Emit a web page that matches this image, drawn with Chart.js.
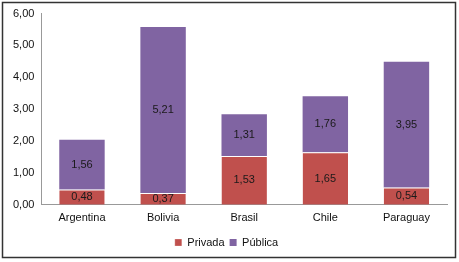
<!DOCTYPE html>
<html>
<head>
<meta charset="utf-8">
<script src="https://cdn.jsdelivr.net/npm/chart.js@4"></script>
<style>
  body { margin: 0; background: #fff; }
  #wrap { width: 459px; height: 262px; }
</style>
</head>
<body>
<div id="wrap"><canvas id="area" width="459" height="262"></canvas></div>
<script>
const categories = ["Argentina", "Bolivia", "Brasil", "Chile", "Paraguay"];
const privada = [0.48, 0.37, 1.53, 1.65, 0.54];
const publica = [1.56, 5.21, 1.31, 1.76, 3.95];

const fmt = v => v.toFixed(2).replace(".", ",");

// frame around the whole chart
const frame = {
  id: "frame",
  afterDraw(chart) {
    const c = chart.ctx;
    c.save();
    c.strokeStyle = "#333";
    c.lineWidth = 1.5;
    c.strokeRect(2.5, 2.5, 453, 255);
    c.restore();
  }
};

// value labels inside the segments
const labels = {
  id: "labels",
  afterDatasetsDraw(chart) {
    const c = chart.ctx;
    c.save();
    c.font = "11px 'Liberation Sans', Arial, sans-serif";
    c.fillStyle = "#1a1a1a";
    c.textAlign = "center";
    c.textBaseline = "middle";
    chart.data.datasets.forEach((ds, i) => {
      chart.getDatasetMeta(i).data.forEach((bar, j) => {
        const y = (bar.y + bar.base) / 2;
        c.fillText(fmt(ds.data[j]), bar.x, y);
      });
    });
    c.restore();
  }
};

new Chart(document.getElementById("area"), {
  type: "bar",
  data: {
    labels: categories,
    datasets: [
      { label: "Privada", data: privada, backgroundColor: "#C0504D", borderColor: "#fff", borderWidth: {top: 1}, borderSkipped: "bottom" },
      { label: "Pública", data: publica, backgroundColor: "#8064A2", borderColor: "#fff", borderWidth: 0 }
    ]
  },
  options: {
    responsive: false,
    animation: false,
    categoryPercentage: 0.56,
    barPercentage: 1,
    layout: { padding: { top: 11, left: 6, right: 12, bottom: 4 } },
    scales: {
      x: {
        stacked: true,
        grid: { display: false, drawTicks: false },
        border: { color: "#999", width: 1 },
        ticks: { color: "#111", font: { family: "'Liberation Sans', Arial", size: 11 }, padding: 7 }
      },
      y: {
        stacked: true,
        min: 0, max: 6,
        grid: { display: false, drawTicks: false },
        border: { color: "#999", width: 1 },
        ticks: { stepSize: 1, color: "#111", padding: 7, font: { family: "'Liberation Sans', Arial", size: 11 }, callback: v => fmt(v) }
      }
    },
    plugins: {
      legend: {
        position: "bottom",
        labels: { boxWidth: 7, boxHeight: 7, padding: 5, color: "#111", font: { family: "'Liberation Sans', Arial", size: 11 } }
      },
      tooltip: { enabled: false }
    }
  },
  plugins: [frame, labels]
});
</script>
</body>
</html>
